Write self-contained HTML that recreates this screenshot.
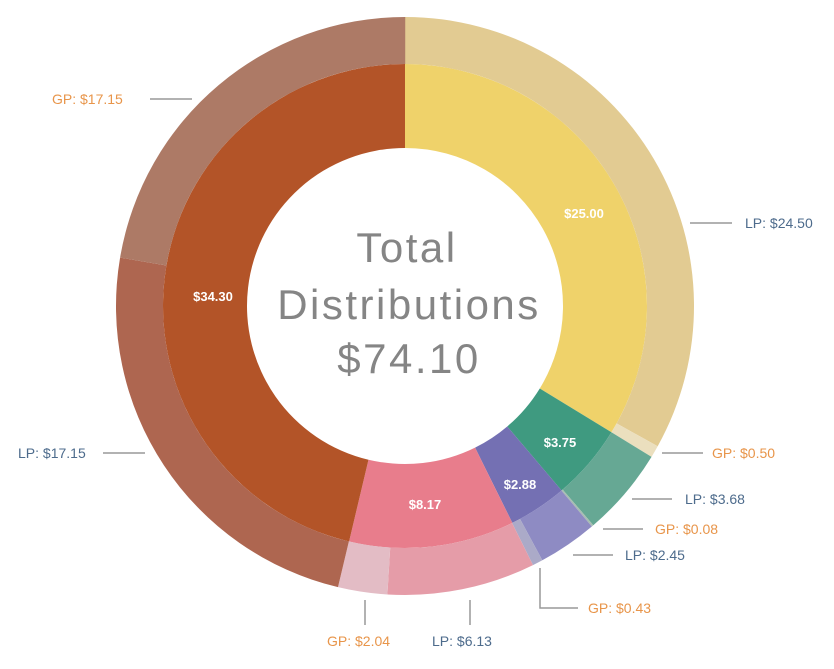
<!DOCTYPE html>
<html><head><meta charset="utf-8"><style>
body{margin:0;background:#fff;width:834px;height:664px;overflow:hidden}
text{font-family:"Liberation Sans",sans-serif}
.gp{fill:#E8954A;font-size:14px}
.lp{fill:#4D6B8C;font-size:14px}
.in{fill:#fff;font-size:13px;font-weight:bold}
.c{fill:#858585;font-size:42px;text-anchor:middle;letter-spacing:2.5px}
line,polyline{stroke:#999;stroke-width:1.5;fill:none}
</style></head><body>
<svg id="s" width="834" height="664" xmlns="http://www.w3.org/2000/svg">
<g id="arcs"></g>
<text class="c" x="407" y="262">Total</text>
<text class="c" x="409" y="319">Distributions</text>
<text class="c" x="409" y="373">$74.10</text>
<text class="in" x="584" y="218" text-anchor="middle">$25.00</text>
<text class="in" x="213" y="301" text-anchor="middle">$34.30</text>
<text class="in" x="560" y="447" text-anchor="middle">$3.75</text>
<text class="in" x="520" y="489" text-anchor="middle">$2.88</text>
<text class="in" x="425" y="509" text-anchor="middle">$8.17</text>
<line x1="150" y1="99" x2="192" y2="99"/><text class="gp" x="52" y="104">GP: $17.15</text>
<line x1="690" y1="223" x2="732" y2="223"/><text class="lp" x="745" y="228">LP: $24.50</text>
<line x1="662" y1="453" x2="703" y2="453"/><text class="gp" x="712" y="458">GP: $0.50</text>
<line x1="632" y1="499" x2="672" y2="499"/><text class="lp" x="685" y="504">LP: $3.68</text>
<line x1="603" y1="529" x2="643" y2="529"/><text class="gp" x="655" y="534">GP: $0.08</text>
<line x1="573" y1="555" x2="613" y2="555"/><text class="lp" x="625" y="560">LP: $2.45</text>
<polyline points="540,568 540,608 578,608"/><text class="gp" x="588" y="613">GP: $0.43</text>
<line x1="365" y1="600" x2="365" y2="625"/><text class="gp" x="327" y="646">GP: $2.04</text>
<line x1="470" y1="600" x2="470" y2="625"/><text class="lp" x="432" y="646">LP: $6.13</text>
<line x1="103" y1="453" x2="145" y2="453"/><text class="lp" x="18" y="458">LP: $17.15</text>
</svg>
<script>
var cx=405,cy=306,T=74.10;
function arc(a0,a1,r0,r1,col){
 function p(a,r){var t=(a/T)*2*Math.PI;return [cx+r*Math.sin(t),cy-r*Math.cos(t)];}
 var l=(a1-a0)/T>0.5?1:0;
 var A=p(a0,r1),B=p(a1,r1),C=p(a1,r0),D=p(a0,r0);
 var d="M"+A+" A"+r1+","+r1+" 0 "+l+" 1 "+B+" L"+C+" A"+r0+","+r0+" 0 "+l+" 0 "+D+"Z";
 var e=document.createElementNS("http://www.w3.org/2000/svg","path");
 e.setAttribute("d",d);e.setAttribute("fill",col);
 document.getElementById("arcs").appendChild(e);
}
var inner=[[25,"#EFD26A"],[3.75,"#3F9A80"],[2.88,"#7470B3"],[8.17,"#E87D8C"],[34.30,"#B35428"]];
var outer=[[24.5,"#E2CB92"],[0.5,"#EBDFBE"],[3.68,"#66A894"],[0.08,"#A8BDB3"],[2.45,"#8E8BC3"],[0.43,"#ABAAC8"],[6.13,"#E59CA8"],[2.04,"#E3BCC5"],[17.75,"#AE6650"],[16.55,"#AD7A66"]];
var a=0;inner.forEach(function(s){arc(a,a+s[0],158,242,s[1]);a+=s[0];});
a=0;outer.forEach(function(s){arc(a,a+s[0],242,289,s[1]);a+=s[0];});
</script>
</body></html>
